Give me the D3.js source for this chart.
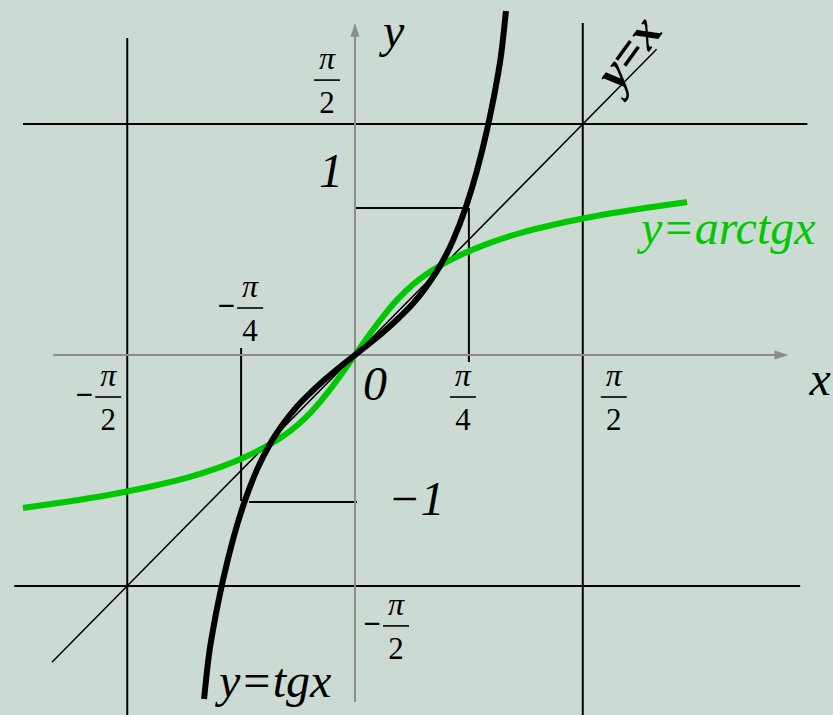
<!DOCTYPE html>
<html><head><meta charset="utf-8">
<script src="https://cdn.jsdelivr.net/npm/d3@7"></script>
<style>html,body{margin:0;padding:0;background:#cbdbd4;} svg{display:block}</style>
</head><body><svg id="c" width="833" height="715"></svg>
<script>
const PI = Math.PI;
// y = tg x (x, y)
const tgPoints = [
  [-1.041,-2.340],[-1.010,-2.060],[-0.970,-1.820],[-0.910,-1.530],[-0.840,-1.250],
  [-0.766,-1.010],[-0.676,-0.780],[-0.586,-0.605],[-0.500,-0.475],[-0.400,-0.350],
  [-0.300,-0.250],[-0.200,-0.160],[-0.100,-0.078],[0,0],[0.100,0.078],[0.200,0.160],
  [0.300,0.250],[0.400,0.350],[0.500,0.475],[0.586,0.605],[0.676,0.780],[0.766,1.010],
  [0.840,1.250],[0.910,1.530],[0.970,1.820],[1.010,2.060],[1.041,2.340]
];
// y = arctg x
const arctgPoints = [
  [-2.290,-1.041],[-2.000,-1.000],[-1.700,-0.952],[-1.400,-0.893],[-1.150,-0.833],
  [-0.950,-0.770],[-0.750,-0.690],[-0.600,-0.615],[-0.500,-0.555],[-0.400,-0.480],
  [-0.300,-0.385],[-0.200,-0.270],[-0.100,-0.140],[0,0],[0.100,0.140],[0.200,0.270],
  [0.300,0.385],[0.400,0.480],[0.500,0.555],[0.600,0.615],[0.750,0.690],[0.950,0.770],
  [1.150,0.833],[1.400,0.893],[1.700,0.952],[2.000,1.000],[2.290,1.041]
];
const asymptoteValues = [-PI/2, PI/2];
const unitMarks = [[PI/4, 1], [-PI/4, -1]];
const xTickLabels = [
  {v:-PI/2, num:"π", den:"2", neg:true},
  {v:-PI/4, num:"π", den:"4", neg:true},
  {v: PI/4, num:"π", den:"4", neg:false},
  {v: PI/2, num:"π", den:"2", neg:false}
];
const yTickLabels = [
  {v: PI/2, num:"π", den:"2", neg:false},
  {v:-PI/2, num:"π", den:"2", neg:true}
];
const unitLabels = ["1", "−1"];
const originLabel = "0";
const axisNames = ["x", "y"];
const curveNames = ["y=tgx", "y=arctgx", "y=x"];

const svg = d3.select("#c");
const W = 833, H = 715;
const x = d3.scaleLinear().domain([-1, 1]).range([355 - 145, 355 + 145]);
const y = d3.scaleLinear().domain([-1, 1]).range([355 + 147, 355 - 147]);

svg.append("rect").attr("width", W).attr("height", H).attr("fill", "#cbdbd4");

const black = "#000", gray = "#8c8c8c", green = "#00c800";
const serif = "'Liberation Serif','Times New Roman',serif";

function seg(x1, y1, x2, y2, color, w) {
  svg.append("line").attr("x1", x1).attr("y1", y1).attr("x2", x2).attr("y2", y2)
    .attr("stroke", color).attr("stroke-width", w);
}

// asymptote lines
const hExt = {[-PI/2]: [-2.35, 3.07], [PI/2]: [-2.29, 3.12]};
const vExt = {[-PI/2]: [2.156, -2.46], [PI/2]: [2.259, -2.46]};
asymptoteValues.forEach(v => {
  const he = hExt[v];
  seg(x(he[0]), y(v), x(he[1]), y(v), black, 2);
  const ve = vExt[v];
  seg(x(v), y(ve[0]), x(v), y(ve[1]), black, 2);
});

// y = x
seg(x(-2.09), y(-2.09), x(2.08), y(2.08), black, 1.5);

// unit marks
unitMarks.forEach(([mx, my]) => {
  if (mx > 0) {
    seg(x(0), y(my), x(mx) - 4, y(my), black, 2);
    seg(x(mx), y(my), x(mx), y(0) + 7, black, 2);
  } else {
    seg(x(mx) + 8, y(my), x(0) + 2, y(my), black, 2);
    seg(x(mx), y(0) - 7, x(mx), y(my) - 1, black, 2);
  }
});

// axes
seg(x(-2.08), y(0), x(2.99) - 10, y(0), gray, 2);
seg(x(0), y(-2.36), x(0), y(2.26) + 10, gray, 2);
svg.append("path").attr("fill", gray)
  .attr("d", `M${x(2.99)},${y(0)} L${x(2.99) - 14},${y(0) - 4.5} L${x(2.99) - 14},${y(0) + 4.5} Z`);
svg.append("path").attr("fill", gray)
  .attr("d", `M${x(0)},${y(2.26)} L${x(0) - 4.5},${y(2.26) + 14} L${x(0) + 4.5},${y(2.26) + 14} Z`);

// curves
const line = d3.line().x(d => x(d[0])).y(d => y(d[1])).curve(d3.curveMonotoneX);
svg.append("path").attr("d", line(arctgPoints)).attr("fill", "none")
  .attr("stroke", green).attr("stroke-width", 6);
svg.append("path").attr("d", line(tgPoints)).attr("fill", "none")
  .attr("stroke", black).attr("stroke-width", 6);

// fraction labels
function frac(cx, by, t) {
  const g = svg.append("g").attr("font-family", serif);
  g.append("text").attr("x", cx).attr("y", by - 11).attr("text-anchor", "middle")
    .attr("font-size", 32).attr("font-style", "italic").text(t.num);
  g.append("line").attr("x1", cx - 13).attr("x2", cx + 13).attr("y1", by).attr("y2", by)
    .attr("stroke", black).attr("stroke-width", 1.6);
  g.append("text").attr("x", cx).attr("y", by + 33).attr("text-anchor", "middle")
    .attr("font-size", 31).text(t.den);
  if (t.neg) {
    g.append("text").attr("x", cx - 15).attr("y", by + 8).attr("text-anchor", "end")
      .attr("font-size", 31).attr("font-weight", "bold").text("−");
  }
}
const xLabOff = {[-PI/2]: [-19, 42], [-PI/4]: [9, -47], [PI/4]: [-6, 42], [PI/2]: [31, 42]};
xTickLabels.forEach(t => {
  const o = xLabOff[t.v];
  frac(x(t.v) + o[0], y(0) + o[1], t);
});
const yLabOff = {[PI/2]: [-28, -44], [-PI/2]: [41, 40]};
yTickLabels.forEach(t => {
  const o = yLabOff[t.v];
  frac(x(0) + o[0], y(t.v) + o[1], t);
});

function txt(s, px, py, opts) {
  const o = Object.assign({size: 48, style: "italic", weight: "normal", fill: black, anchor: "start"}, opts || {});
  return svg.append("text").attr("x", px).attr("y", py).attr("font-family", serif)
    .attr("font-size", o.size).attr("font-style", o.style).attr("font-weight", o.weight)
    .attr("fill", o.fill).attr("text-anchor", o.anchor).text(s);
}

// unit labels
txt(unitLabels[0], x(0) - 36, y(1) - 21);
txt(unitLabels[1], x(0) + 33, y(-1) + 13);
// origin
txt(originLabel, x(0) + 8, y(0) + 45);
// axis names
txt(axisNames[0], x(2.99) + 21, y(0) + 40);
txt(axisNames[1], x(0) + 28, 47, {size: 48});
// curve names
txt(curveNames[0], 219, 697, {size: 48});
txt(curveNames[1], 641, 244, {size: 48, fill: green});
svg.append("text").attr("font-family", serif).attr("font-size", 50)
  .attr("font-style", "italic").attr("font-weight", "bold")
  .attr("text-anchor", "middle").attr("dominant-baseline", "central")
  .attr("transform", "translate(628,52) rotate(-54)").text(curveNames[2]);
</script></body></html>
